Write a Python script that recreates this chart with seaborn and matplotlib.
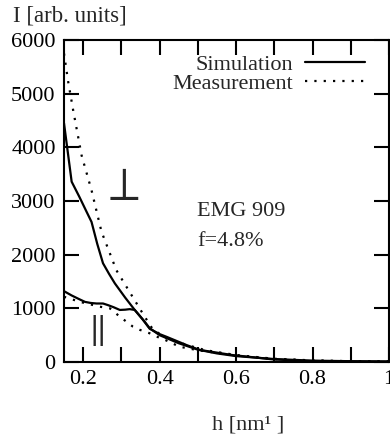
import matplotlib
matplotlib.use("Agg")
import matplotlib.pyplot as plt
import seaborn as sns
import pandas as pd

# Perpendicular (upper) curves
h_perp_sim = [0.15, 0.17, 0.19, 0.209, 0.222, 0.237, 0.252, 0.268, 0.283, 0.31, 0.335, 0.36, 0.374, 0.40, 0.45, 0.50, 0.55, 0.60, 0.70, 0.80, 0.90, 1.0]
I_perp_sim = [4450, 3360, 3080, 2800, 2610, 2200, 1840, 1640, 1465, 1200, 970, 760, 630, 500, 350, 230, 160, 110, 55, 25, 15, 10]
h_perp_meas = [0.15, 0.161, 0.174, 0.187, 0.196, 0.222, 0.248, 0.287, 0.34, 0.361, 0.383, 0.42, 0.47, 0.52, 0.60, 0.70, 0.80, 0.90, 1.0]
I_perp_meas = [5750, 5220, 4690, 4195, 3850, 3200, 2430, 1710, 1090, 845, 600, 440, 320, 220, 130, 60, 30, 15, 10]

# Parallel (lower) curves
h_par_sim = [0.15, 0.17, 0.19, 0.205, 0.22, 0.235, 0.252, 0.265, 0.28, 0.296, 0.31, 0.322, 0.335, 0.355, 0.374, 0.40, 0.418, 0.47, 0.505, 0.59, 0.695, 0.78, 0.90, 1.0]
I_par_sim = [1320, 1240, 1170, 1120, 1100, 1090, 1090, 1060, 1020, 970, 975, 985, 970, 800, 620, 520, 470, 317, 225, 130, 50, 20, 10, 5]
h_par_meas = [0.15, 0.192, 0.244, 0.27, 0.296, 0.33, 0.348, 0.374, 0.40, 0.418, 0.452, 0.50, 0.60, 0.70, 0.80, 0.90, 1.0]
I_par_meas = [1215, 1120, 1030, 1000, 845, 660, 600, 535, 450, 400, 285, 220, 120, 55, 25, 12, 8]

x_ticks = [0.2, 0.3, 0.4, 0.5, 0.6, 0.7, 0.8, 0.9, 1.0]
x_ticklabels = ["0.2", "", "0.4", "", "0.6", "", "0.8", "", "1"]
y_ticks = [0, 1000, 2000, 3000, 4000, 5000, 6000]

sns.set_style("ticks")
plt.rcParams['font.family'] = ['Liberation Serif', 'DejaVu Serif', 'DejaVu Sans']
plt.rcParams['mathtext.fontset'] = 'stix'

W, H = 390, 438
fig = plt.figure(figsize=(W / 100, H / 100), dpi=100)
ax = fig.add_axes([64 / W, (H - 362) / H, (389 - 64) / W, (362 - 40) / H])


def px(x, y):
    """pixel (from top-left) -> figure fraction"""
    return x / W, 1 - y / H


dotted = (0, (1, 3.2))
curves = [
    (h_perp_sim, I_perp_sim, '-', 'Simulation'),
    (h_perp_meas, I_perp_meas, dotted, 'Measurement'),
    (h_par_sim, I_par_sim, '-', None),
    (h_par_meas, I_par_meas, dotted, None),
]
handles = []
for hx, iy, ls, lab in curves:
    df = pd.DataFrame({'h': hx, 'I': iy})
    sns.lineplot(data=df, x='h', y='I', ax=ax, color='black', linestyle=ls,
                 linewidth=1.6, sort=False)
    line = ax.lines[-1]
    if lab is not None:
        line.set_label(lab)
        handles.append(line)

ax.set_xlim(0.15, 1.0)
ax.set_ylim(0, 6000)
ax.set_xticks(x_ticks)
ax.set_xticklabels(x_ticklabels)
ax.set_yticks(y_ticks)
ax.set_xlabel('')
ax.set_ylabel('')
ax.tick_params(direction='in', length=11, width=1.5, top=True, right=True,
               labelsize=16, pad=6, colors='black')
for s in ax.spines.values():
    s.set_visible(True)
    s.set_linewidth(1.5)
    s.set_color('black')

leg = ax.legend(handles=handles, labels=['Simulation', 'Measurement'],
                loc='upper right', bbox_to_anchor=(0.975, 1.004), frameon=False,
                markerfirst=False, fontsize=16, handlelength=2.7,
                handletextpad=0.55, labelspacing=-0.05, borderpad=0.2)

fig.text(*px(13, 16), 'I [arb. units]', fontsize=16.5, ha='left', va='center')
fig.text(*px(248, 425), 'h [nm\u00b9 ]', fontsize=16, ha='center', va='center')
fig.text(*px(197, 212), 'EMG 909', fontsize=16, ha='left', va='center')
fig.text(*px(197, 242), 'f=4.8%', fontsize=16, ha='left', va='center')
fig.text(*px(121, 189), r'$\perp$', fontsize=34, ha='center', va='center')
fig.text(*px(94, 331), '|', fontsize=24, ha='center', va='center', fontweight='bold')
fig.text(*px(101, 331), '|', fontsize=24, ha='center', va='center', fontweight='bold')

fig.savefig('out.png', dpi=100)
